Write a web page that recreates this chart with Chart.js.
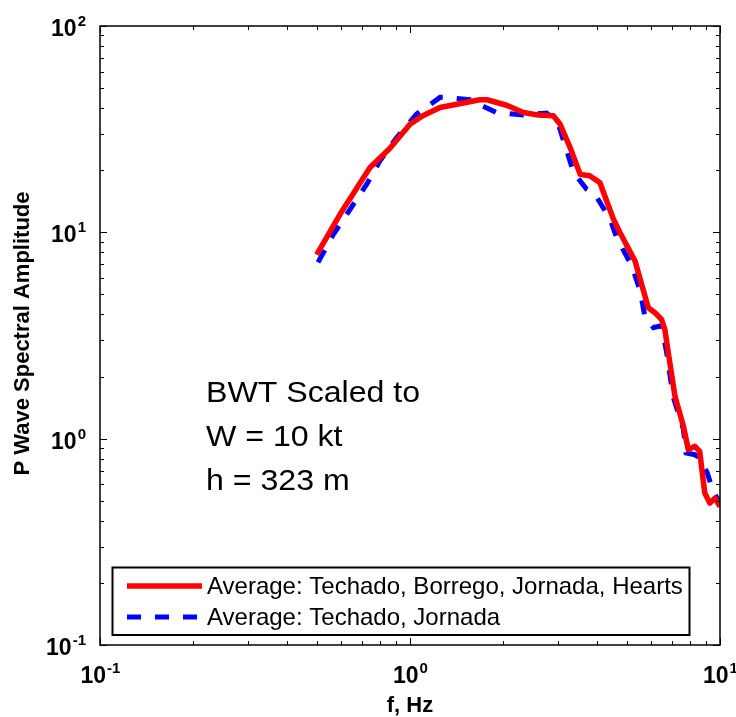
<!DOCTYPE html>
<html>
<head>
<meta charset="utf-8">
<script src="https://cdn.jsdelivr.net/npm/chart.js@4/dist/chart.umd.min.js"></script>
<style>
  html, body { margin: 0; padding: 0; background: #fff; }
  #wrap { width: 736px; height: 717px; }
</style>
</head>
<body>
<div id="wrap"><canvas id="c" width="736" height="717"></canvas></div>
<script>
// ---- data ----
const freqAll = [0.5, 0.594, 0.743, 0.86, 1.0, 1.1, 1.25, 1.5, 1.68, 1.77, 2.05, 2.32, 2.6, 2.9, 3.05, 3.3, 3.54, 3.8, 4.1, 4.3, 4.53, 4.76, 5.32, 5.87, 6.17, 6.48, 6.64, 6.81, 7.16, 7.62, 7.9, 8.3, 8.6, 8.93, 9.27, 9.63, 10];
const ampAll  = [7.8, 12.2, 20.6, 25.5, 33.4, 36.7, 40.3, 42.5, 43.9, 43.9, 41.3, 38.1, 37.0, 36.7, 33.4, 25.3, 19.1, 18.8, 17.4, 14.3, 11.6, 9.96, 7.26, 4.31, 4.08, 3.78, 3.38, 2.61, 1.60, 1.15, 0.885, 0.918, 0.868, 0.545, 0.487, 0.515, 0.469];

const freqTJ = [0.505, 0.566, 0.64, 0.725, 0.8, 0.906, 1.05, 1.25, 1.31, 1.56, 1.9, 2.32, 2.5, 2.76, 3.0, 3.37, 3.71, 3.95, 4.42, 4.64, 5.2, 5.53, 5.72, 6.1, 6.48, 6.73, 7.06, 7.62, 7.77, 8.3, 8.6, 9.1, 9.5, 10];
const ampTJ  = [7.15, 9.78, 12.9, 17.1, 22.2, 28.8, 37.4, 45.1, 45.1, 43.9, 38.1, 37.0, 37.4, 37.8, 34.0, 19.5, 16.2, 15.3, 11.6, 9.43, 6.86, 5.19, 3.92, 3.45, 3.53, 2.61, 1.60, 1.11, 0.853, 0.836, 0.806, 0.682, 0.555, 0.487];

const seriesLabels = ['Average: Techado, Borrego, Jornada, Hearts', 'Average: Techado, Jornada'];

const xTickValues = [0.1, 1, 10];
const xTickExps   = ['-1', '0', '1'];
const yTickValues = [0.1, 1, 10, 100];
const yTickExps   = ['-1', '0', '1', '2'];

const xTitle = 'f, Hz';
const yTitle = 'P Wave Spectral Amplitude';
const annotationLines = ['BWT Scaled to', 'W = 10 kt', 'h = 323 m'];

// ---- build ----
const toPts = (xs, ys) => xs.map((x, i) => ({ x: x, y: ys[i] }));
const FONT = '"Liberation Sans", Arial, Helvetica, sans-serif';

const decor = {
  id: 'decor',
  afterDraw(chart) {
    const ctx = chart.ctx;
    const a = chart.chartArea;
    const xs = chart.scales.x, ys = chart.scales.y;
    ctx.save();
    ctx.strokeStyle = '#000';
    ctx.fillStyle = '#000';

    // inward ticks on all four sides
    ctx.lineWidth = 1;
    ctx.beginPath();
    for (let d = -1; d <= 1; d++) {
      for (let k = 1; k <= 9; k++) {
        const v = k * Math.pow(10, d);
        if (v < 0.1 - 1e-9 || v > 10 + 1e-9) continue;
        const px = Math.round(xs.getPixelForValue(v)) + 0.5;
        const len = k === 1 ? 7 : 4;
        ctx.moveTo(px, a.bottom); ctx.lineTo(px, a.bottom - len);
        ctx.moveTo(px, a.top); ctx.lineTo(px, a.top + len);
      }
    }
    for (let d = -1; d <= 2; d++) {
      for (let k = 1; k <= 9; k++) {
        const v = k * Math.pow(10, d);
        if (v < 0.1 - 1e-9 || v > 100 + 1e-9) continue;
        const py = Math.round(ys.getPixelForValue(v)) + 0.5;
        const len = k === 1 ? 7 : 4;
        ctx.moveTo(a.left, py); ctx.lineTo(a.left + len, py);
        ctx.moveTo(a.right, py); ctx.lineTo(a.right - len, py);
      }
    }
    ctx.stroke();

    // frame
    ctx.lineWidth = 1.5;
    ctx.strokeRect(a.left, a.top, a.right - a.left, a.bottom - a.top);

    // tick labels with superscripts
    const baseFont = 'bold 23px ' + FONT;
    const expFont = 'bold 15px ' + FONT;
    ctx.textBaseline = 'alphabetic';
    ctx.textAlign = 'left';
    xTickValues.forEach((v, i) => {
      const px = xs.getPixelForValue(v);
      ctx.font = baseFont; const w1 = ctx.measureText('10').width;
      ctx.font = expFont; const w2 = ctx.measureText(xTickExps[i]).width;
      const x0 = px - (w1 + w2) / 2;
      ctx.font = baseFont; ctx.fillText('10', x0, a.bottom + 38);
      ctx.font = expFont; ctx.fillText(xTickExps[i], x0 + w1 + 1, a.bottom + 28);
    });
    yTickValues.forEach((v, i) => {
      const py = ys.getPixelForValue(v);
      ctx.font = baseFont; const w1 = ctx.measureText('10').width;
      ctx.font = expFont; const w2 = ctx.measureText(yTickExps[i]).width;
      const x0 = a.left - 15 - (w1 + w2);
      ctx.font = baseFont; ctx.fillText('10', x0, py + 10);
      ctx.font = expFont; ctx.fillText(yTickExps[i], x0 + w1 + 1, py);
    });

    // axis titles
    ctx.font = 'bold 22px ' + FONT;
    ctx.textAlign = 'center';
    ctx.fillText(xTitle, (a.left + a.right) / 2, a.bottom + 67);
    ctx.save();
    ctx.translate(29, (a.top + a.bottom) / 2 - 2);
    ctx.rotate(-Math.PI / 2);
    ctx.fillText(yTitle, 0, 0);
    ctx.restore();

    // annotation (slightly wide, as in the original rendering)
    ctx.font = '30px ' + FONT;
    ctx.textAlign = 'left';
    annotationLines.forEach((t, i) => {
      ctx.save();
      ctx.translate(206, 402 + i * 44);
      ctx.scale(1.07, 1);
      ctx.fillText(t, 0, 0);
      ctx.restore();
    });

    // legend
    const ds = chart.data.datasets;
    const lx = 112.5, ly = 567.5, lw = 577, lh = 67.5;
    ctx.fillStyle = '#fff';
    ctx.fillRect(lx, ly, lw, lh);
    ctx.lineWidth = 2;
    ctx.strokeStyle = '#000';
    ctx.strokeRect(lx, ly, lw, lh);
    const rowY = [586, 617];
    ds.forEach((d, i) => {
      ctx.save();
      ctx.strokeStyle = d.borderColor;
      ctx.lineWidth = d.borderWidth;
      ctx.lineCap = 'butt';
      ctx.setLineDash(d.borderDash || []);
      ctx.beginPath();
      ctx.moveTo(127, rowY[i]);
      ctx.lineTo(202, rowY[i]);
      ctx.stroke();
      ctx.restore();
      ctx.fillStyle = '#000';
      ctx.font = '24px ' + FONT;
      ctx.textAlign = 'left';
      ctx.textBaseline = 'middle';
      ctx.fillText(d.label, 207, rowY[i] + 1);
    });
    ctx.restore();
  }
};

new Chart(document.getElementById('c'), {
  type: 'line',
  data: {
    datasets: [
      {
        label: seriesLabels[0],
        data: toPts(freqAll, ampAll),
        borderColor: '#ff0000',
        backgroundColor: '#ff0000',
        borderWidth: 5.5,
        pointRadius: 0,
        tension: 0,
        fill: false,
        borderJoinStyle: 'round'
      },
      {
        label: seriesLabels[1],
        data: toPts(freqTJ, ampTJ),
        borderColor: '#0000ff',
        backgroundColor: '#0000ff',
        borderWidth: 5,
        borderDash: [14, 14],
        pointRadius: 0,
        tension: 0,
        fill: false
      }
    ]
  },
  options: {
    responsive: false,
    animation: false,
    devicePixelRatio: 1,
    parsing: true,
    layout: { padding: { left: 100, right: 16, top: 26, bottom: 72 } },
    plugins: { legend: { display: false }, tooltip: { enabled: false } },
    scales: {
      x: { type: 'logarithmic', min: 0.1, max: 10, display: false },
      y: { type: 'logarithmic', min: 0.1, max: 100, display: false }
    }
  },
  plugins: [decor]
});
</script>
</body>
</html>
